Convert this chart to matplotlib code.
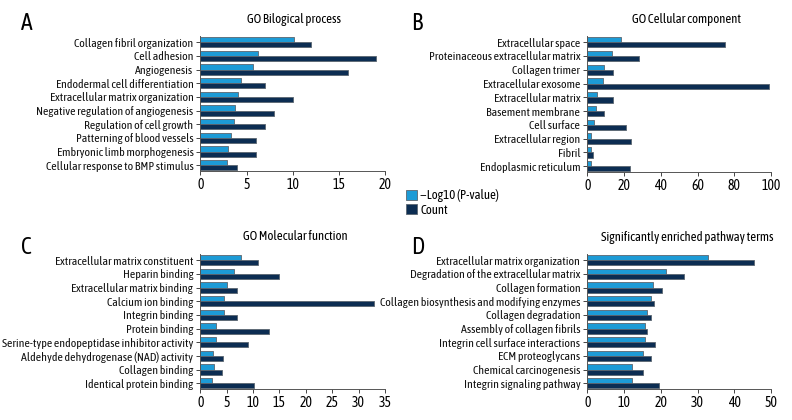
import numpy as np
import matplotlib
matplotlib.use("Agg")
import matplotlib.pyplot as plt
from matplotlib.patches import Patch

plt.rcParams['font.family'] = ['Asap Condensed', 'Archivo Narrow', 'DejaVu Sans']

# data
bp_terms = ["Collagen fibril organization", "Cell adhesion", "Angiogenesis",
            "Endodermal cell differentiation", "Extracellular matrix organization",
            "Negative regulation of angiogenesis", "Regulation of cell growth",
            "Patterning of blood vessels", "Embryonic limb morphogenesis",
            "Cellular response to BMP stimulus"]
bp_logp = [10.1, 6.2, 5.7, 4.4, 4.1, 3.75, 3.6, 3.35, 3.0, 2.9]
bp_count = [12, 19, 16, 7, 10, 8, 7, 6, 6, 4]

cc_terms = ["Extracellular space", "Proteinaceous extracellular matrix", "Collagen trimer",
            "Extracellular exosome", "Extracellular matrix", "Basement membrane",
            "Cell surface", "Extracellular region", "Fibril", "Endoplasmic reticulum"]
cc_logp = [18.3, 13.6, 8.9, 8.7, 5.4, 4.9, 3.5, 2.2, 2.2, 1.8]
cc_count = [75, 28, 14, 99, 14, 9, 21, 24, 3, 23]

mf_terms = ["Extracellular matrix constituent", "Heparin binding",
            "Extracellular matrix binding", "Calcium ion binding", "Integrin binding",
            "Protein binding", "Serine-type endopeptidase inhibitor activity",
            "Aldehyde dehydrogenase (NAD) activity", "Collagen binding",
            "Identical protein binding"]
mf_logp = [7.8, 6.3, 5.0, 4.4, 4.4, 3.0, 3.0, 2.5, 2.6, 2.2]
mf_count = [11, 15, 7, 33, 7, 13, 9, 4.3, 4.2, 10.2]

pw_terms = ["Extracellular matrix organization", "Degradation of the extracellular matrix",
            "Collagen formation", "Collagen biosynthesis and modifying enzymes",
            "Collagen degradation", "Assembly of collagen fibrils",
            "Integrin cell surface interactions", "ECM proteoglycans",
            "Chemical carcinogenesis", "Integrin signaling pathway"]
pw_logp = [32.9, 21.3, 17.8, 17.3, 16.3, 15.8, 15.7, 15.2, 12.3, 12.2]
pw_count = [45.3, 26.4, 20.3, 18.2, 17.3, 16.2, 18.3, 17.3, 15.2, 19.4]

light = '#1d9bd6'
dark = '#0c2d52'
edge = '#5b6670'

W, H = 792, 420
fig = plt.figure(figsize=(W / 100, H / 100), dpi=100)


def panel(box, letter, title, terms, logp, count, xmax, step, title_x, title_y, letter_xy):
    l, r, t, b = box
    ax = fig.add_axes([l / W, 1 - b / H, (r - l) / W, (b - t) / H])
    n = len(terms)
    y = np.arange(n)[::-1]
    h = 0.38
    ax.barh(y + h / 2, logp, height=h, color=light, edgecolor=edge, linewidth=0.6)
    ax.barh(y - h / 2, count, height=h, color=dark, edgecolor=edge, linewidth=0.6)
    ax.set_ylim(-0.42, n - 1 + 0.45)
    ax.set_xlim(0, xmax)
    ax.set_xticks(np.arange(0, xmax + 0.01, step))
    ax.set_yticks(y)
    ax.set_yticklabels(terms, fontsize=8.6, color='#111111')
    ax.tick_params(axis='y', length=3, width=0.7, color='#444444', pad=2)
    ax.tick_params(axis='x', length=3, width=0.7, color='#444444', labelsize=10, pad=2)
    for s in ['top', 'right']:
        ax.spines[s].set_visible(False)
    for s in ['left', 'bottom']:
        ax.spines[s].set_color('#555555')
        ax.spines[s].set_linewidth(0.7)
    fig.text(title_x / W, 1 - title_y / H, title, ha='center', va='center', fontsize=9.3)
    fig.text(letter_xy[0] / W, 1 - letter_xy[1] / H, letter, ha='left', va='center', fontsize=17)
    return ax


panel((200.5, 385, 36, 171), 'A', 'GO Bilogical process', bp_terms, bp_logp, bp_count,
      20, 5, 294, 20, (21, 24))
panel((587.3, 771, 36, 172), 'B', 'GO Cellular component', cc_terms, cc_logp, cc_count,
      100, 20, 686, 19, (411, 24))
panel((200.3, 385, 254, 389), 'C', 'GO Molecular function', mf_terms, mf_logp, mf_count,
      35, 5, 295, 237, (21, 247))
panel((587.3, 771, 254, 389), 'D', 'Significantly enriched pathway terms', pw_terms, pw_logp,
      pw_count, 50, 10, 687, 237, (411, 247))

handles = [Patch(facecolor=light, edgecolor=edge, linewidth=0.6),
           Patch(facecolor=dark, edgecolor=edge, linewidth=0.6)]
fig.legend(handles, ['\u2212Log10 (P-value)', 'Count'], loc='upper left',
           bbox_to_anchor=(405 / W, 1 - 188 / H), frameon=False, fontsize=9.3,
           handlelength=0.8, handleheight=0.8, handletextpad=0.3, labelspacing=0.1,
           borderpad=0.1, borderaxespad=0)

fig.savefig('out.png', dpi=100)
